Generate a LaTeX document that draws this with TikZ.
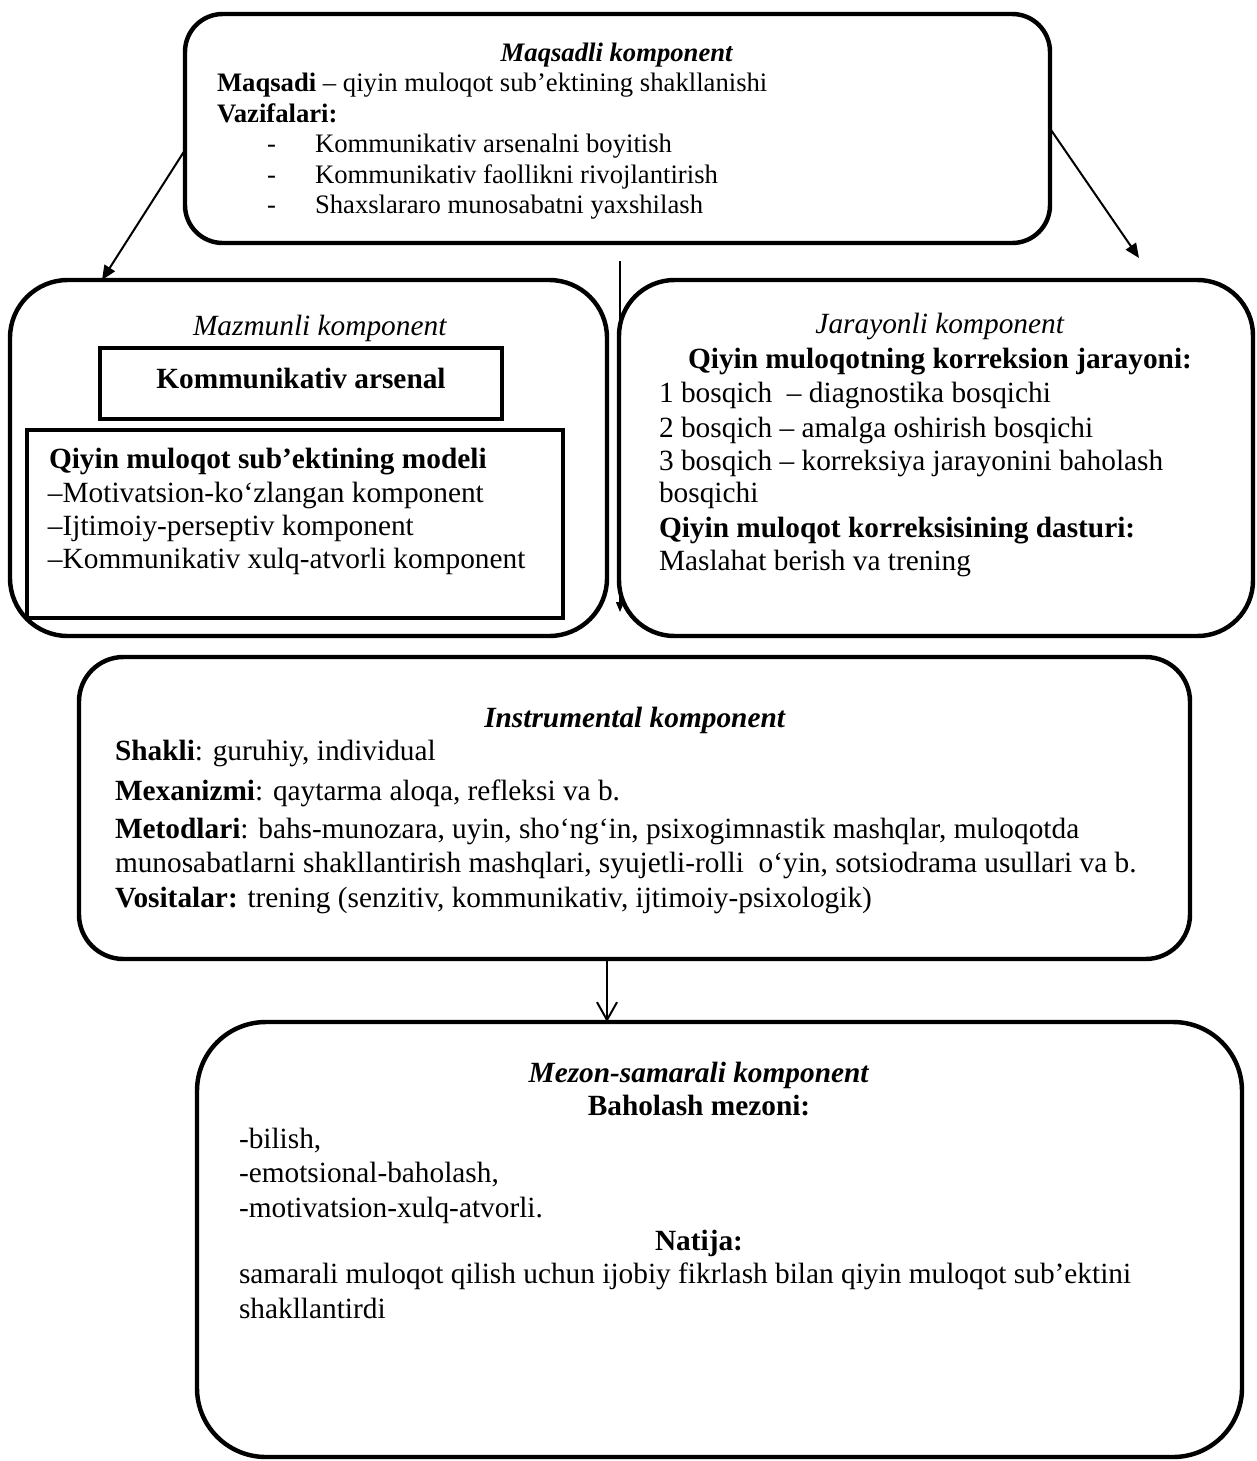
\documentclass[tikz,border=0pt]{standalone}
\usepackage{fontspec}
\setmainfont{Liberation Serif}
\usetikzlibrary{fit,arrows.meta}

\begin{document}
\begin{tikzpicture}[x=0.45pt, y=-0.45pt,
    every node/.style={inner sep=0pt, outer sep=0pt},
    rbox/.style={draw, line width=2pt, rounded corners=#1, inner sep=0pt},
    sbox/.style={draw, line width=2.2pt, inner sep=0pt},
    small/.style={font=\fontsize{12}{13.8}\selectfont},
    big/.style={font=\fontsize{13.2}{15.2}\selectfont},
    ln/.style={anchor=base west},
    lc/.style={anchor=base},
    arr/.style={line width=0.9pt, -{Triangle[length=6.5pt, width=5.5pt]}},
    marr/.style={line width=0.6pt, -{Triangle[length=4.5pt, width=3.6pt]}},
    barr/.style={line width=0.9pt, -{Straight Barb[length=8pt, width=9pt]}}]

    % Page.
    \useasboundingbox (0,0) rectangle (1257,1461);

    % Boxes.
    \node[rbox=17pt, fit={(185,14) (1050,243)}] (maqsad) {};
    \node[rbox=26pt, fit={(10,280) (607,636)}] (mazmun) {};
    \node[rbox=25pt, fit={(619,280) (1253,636)}] (jarayon) {};
    \node[sbox, fit={(100,348) (502,419)}] (arsenal) {};
    \node[sbox, fit={(27,430) (563,618)}] (model) {};
    \node[rbox=20pt, fit={(79,657) (1190,959)}] (instr) {};
    \node[rbox=31pt, fit={(197,1022) (1242,1457)}] (mezon) {};

    % Maqsadli komponent.
    \node[small, lc] (maq-t) at (617,61) {\textbf{\textit{Maqsadli komponent}}};
    \node[small, ln] (maq-1) at (217,91) {\textbf{Maqsadi} – qiyin muloqot sub’ektining shakllanishi};
    \node[small, ln] (maq-2) at (217,122) {\textbf{Vazifalari:}};
    \foreach \i/\y/\t in {1/152/Kommunikativ arsenalni boyitish,
                          2/183/Kommunikativ faollikni rivojlantirish,
                          3/213/Shaxslararo munosabatni yaxshilash} {
        \node[small, ln] (vaz-d\i) at (267,\y) {-};
        \node[small, ln] (vaz-\i) at (315,\y) {\t};
    }

    % Mazmunli komponent.
    \node[big, lc] (maz-t) at (320,335) {\textit{Mazmunli komponent}};
    \node[big, lc] (ars-t) at (301,388) {\textbf{Kommunikativ arsenal}};
    \node[big, ln] (mod-t) at (49,468) {\textbf{Qiyin muloqot sub’ektining modeli}};
    \foreach \i/\y/\t in {1/502/–Motivatsion-ko‘zlangan komponent,
                          2/535/–Ijtimoiy-perseptiv komponent,
                          3/568/–Kommunikativ xulq-atvorli komponent}
        \node[big, ln] (mod-\i) at (48,\y) {\t};

    % Jarayonli komponent.
    \node[big, lc] (jar-t) at (940,333) {\textit{Jarayonli komponent}};
    \node[big, lc] (jar-s) at (940,368) {\textbf{Qiyin muloqotning korreksion jarayoni:}};
    \foreach \i/\y/\t in {1/402/1 bosqich\ \ – diagnostika bosqichi,
                          2/437/2 bosqich – amalga oshirish bosqichi,
                          3/470/3 bosqich – korreksiya jarayonini baholash,
                          4/502/bosqichi,
                          5/537/\textbf{Qiyin muloqot korreksisining dasturi:},
                          6/570/Maslahat berish va trening}
        \node[big, ln] (jar-\i) at (659,\y) {\t};

    % Instrumental komponent.
    \node[big, lc] (ins-t) at (635,727) {\textbf{\textit{Instrumental komponent}}};
    \foreach \i/\y/\t in {1/760/{\textbf{Shakli}: guruhiy, individual},
                          2/800/{\textbf{Mexanizmi}: qaytarma aloqa, refleksi va b.},
                          3/838/{\textbf{Metodlari}: bahs-munozara, uyin, sho‘ng‘in, psixogimnastik mashqlar, muloqotda},
                          4/872/{munosabatlarni shakllantirish mashqlari, syujetli-rolli\ \ o‘yin, sotsiodrama usullari va b.},
                          5/907/{\textbf{Vositalar:} trening (senzitiv, kommunikativ, ijtimoiy-psixologik)}}
        \node[big, ln] (ins-\i) at (115,\y) {\t};

    % Mezon-samarali komponent.
    \node[big, lc] (mez-t) at (699,1082) {\textbf{\textit{Mezon-samarali komponent}}};
    \node[big, lc] (mez-s) at (699,1115) {\textbf{Baholash mezoni:}};
    \foreach \i/\y/\t in {1/1148/{-bilish,},
                          2/1182/{-emotsional-baholash,},
                          3/1217/{-motivatsion-xulq-atvorli.}}
        \node[big, ln] (mez-\i) at (239,\y) {\t};
    \node[big, lc] (nat-t) at (699,1250) {\textbf{Natija:}};
    \node[big, ln] (nat-1) at (239,1283) {samarali muloqot qilish uchun ijobiy fikrlash bilan qiyin muloqot sub’ektini};
    \node[big, ln] (nat-2) at (239,1318) {shakllantirdi};

    % Arrows.
    \coordinate (r-end) at (1139,258);
    \coordinate (m-top) at (620,261);
    \coordinate (m-bot) at (620,612);
    \coordinate (d-x) at (607,0);
    \draw[arr] (maqsad.west |- 0,150) -- (mazmun.north west -| 102,0);
    \draw[arr] (maqsad.east) -- (r-end);
    \draw[marr] (m-top) -- (m-bot);
    \draw[barr] (instr.south -| d-x) -- (mezon.north -| d-x);

\end{tikzpicture}
\end{document}
